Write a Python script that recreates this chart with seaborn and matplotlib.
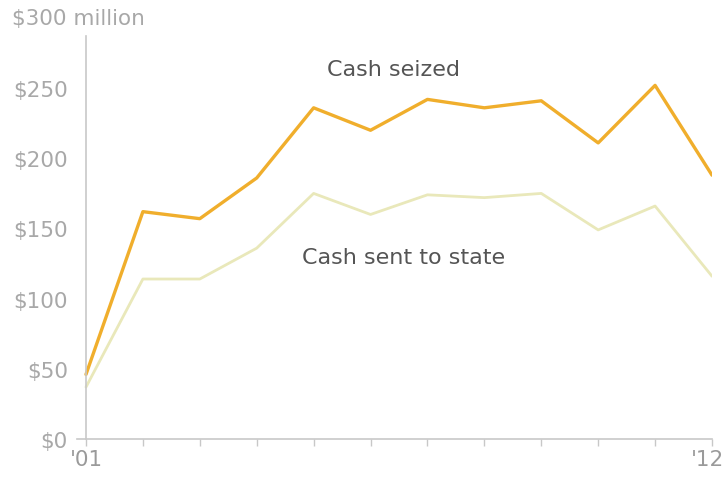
import matplotlib
matplotlib.use("Agg")
import matplotlib.pyplot as plt
import matplotlib.transforms as mtransforms
import seaborn as sns
import pandas as pd

years = list(range(2001, 2013))
cash_seized = [46, 162, 157, 186, 236, 220, 242, 236, 241, 211, 252, 188]
cash_sent = [37, 114, 114, 136, 175, 160, 174, 172, 175, 149, 166, 116]
ytick_vals = [0, 50, 100, 150, 200, 250]
ytick_labels = ["$0", "$50", "$100", "$150", "$200", "$250"]

df = pd.DataFrame({"year": years * 2,
                   "value": cash_seized + cash_sent,
                   "series": ["Cash seized"] * 12 + ["Cash sent to state"] * 12})

sns.set_style("white")
plt.rcParams["font.family"] = ["DejaVu Sans"]

fig = plt.figure(figsize=(7.27, 4.81), dpi=100)
ax = fig.add_axes([77 / 727, 1 - 440 / 481, (712 - 77) / 727, (440 - 19) / 481])

sns.lineplot(data=df, x="year", y="value", hue="series",
             palette={"Cash seized": "#F0AE2C", "Cash sent to state": "#E9E8BA"},
             linewidth=2.4, legend=False, ax=ax)
for ln in ax.lines:
    if ln.get_color().lower() == "#e9e8ba":
        ln.set_linewidth(2.0)

ax.set_xlim(2001 - 9 / 57, 2012)
ax.set_ylim(0, 300)
ax.set_xlabel("")
ax.set_ylabel("")

for s in ["top", "right"]:
    ax.spines[s].set_visible(False)
ax.spines["left"].set_position(("data", 2001))
ax.spines["left"].set_bounds(0, 287)
ax.spines["left"].set_color("#c8c8c8")
ax.spines["bottom"].set_color("#c8c8c8")
ax.spines["left"].set_linewidth(1.2)
ax.spines["bottom"].set_linewidth(1.2)

ax.set_xticks(years)
ax.set_xticklabels(["'01"] + [""] * 10 + ["'12"])
ax.tick_params(axis="x", length=5, width=1, color="#c8c8c8", direction="out",
               labelsize=15.5, labelcolor="#9a9a9a", pad=2, bottom=True)
ax.set_yticks(ytick_vals)
ax.set_yticklabels(ytick_labels)
ax.tick_params(axis="y", length=0, labelsize=15.5, labelcolor="#a8a8a8", pad=13, left=True)

last = ax.get_xticklabels()[-1]
last.set_transform(last.get_transform() + mtransforms.ScaledTranslation(-5 / 100, 0, fig.dpi_scale_trans))

ax.text(-0.102, 300, "$300 million", transform=ax.get_yaxis_transform(),
        ha="left", va="center", fontsize=15.5, color="#a8a8a8")

ax.text(2006.4, 264, "Cash seized", ha="center", va="center", fontsize=16, color="#555555")
ax.text(2004.8, 130, "Cash sent to state", ha="left", va="center", fontsize=16, color="#555555")

fig.savefig("out.png", dpi=100)
